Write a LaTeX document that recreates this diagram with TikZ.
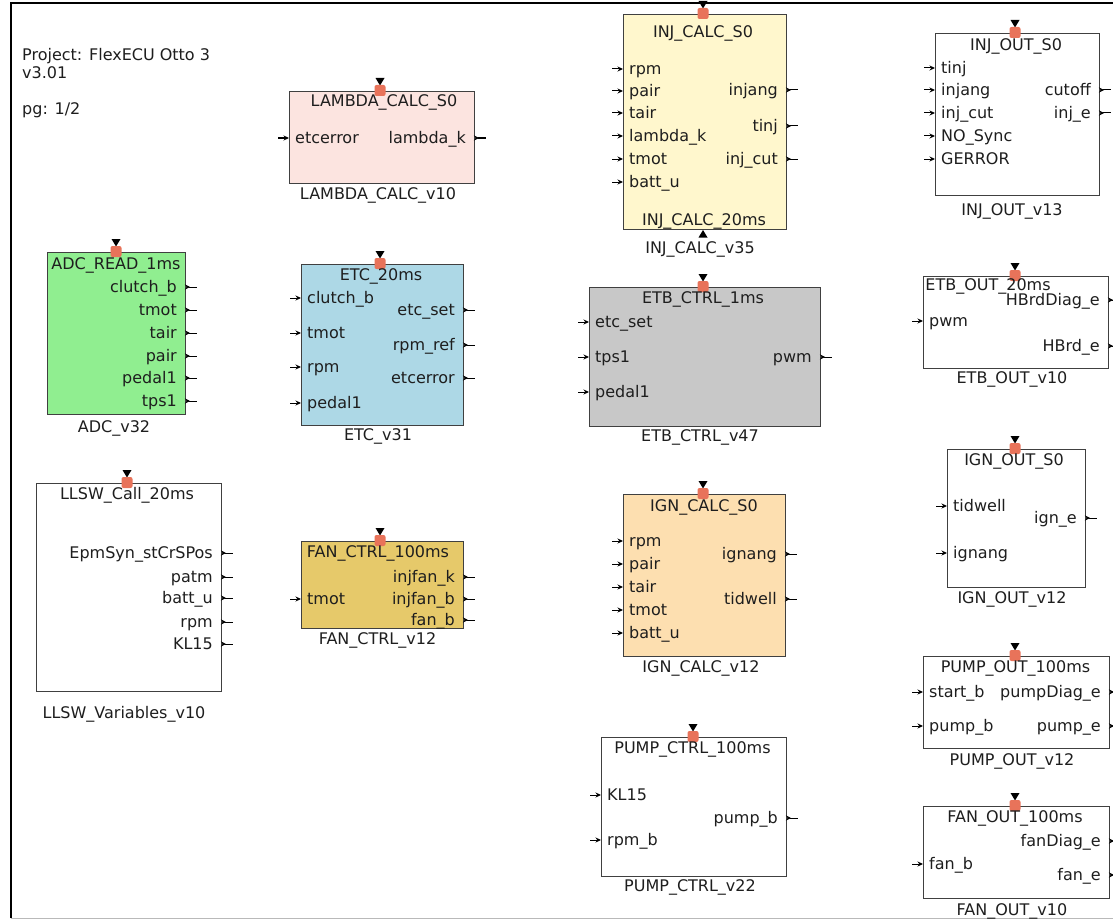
\documentclass[tikz,border=0pt]{standalone}
\usepackage{fontspec}
\setmainfont{DejaVu Sans}
\usetikzlibrary{arrows.meta,calc}
\definecolor{pinkfill}{HTML}{FCE4E0}
\definecolor{yellowfill}{HTML}{FFF7CD}
\definecolor{greenfill}{HTML}{90EE90}
\definecolor{bluefill}{HTML}{ADD8E6}
\definecolor{grayfill}{HTML}{C8C8C8}
\definecolor{khakifill}{HTML}{E6C96A}
\definecolor{peachfill}{HTML}{FDDFB0}
\definecolor{trigred}{HTML}{E8735A}
\definecolor{txtcol}{HTML}{1E1E1E}
\tikzset{
  fblk/.style={rectangle, draw=black!75, line width=0.9pt, anchor=north west, inner sep=0pt, outer sep=0pt},
  txt/.style={font=\fontsize{16}{19}\selectfont, inner sep=0pt, text=txtcol},
  inarr/.style={-{Stealth[length=5.5pt,width=5pt]}, line width=1pt},
  outarr/.style={{Stealth[length=5pt,width=5pt,reversed]}-, line width=1pt},
}
\newcommand\mkblk[6]{\node[fblk, fill=#6, minimum width={(#4-#2)*1pt}, minimum height={(#5-#3)*1pt}] (#1) at (#2,#3) {};}
\newcommand\pin[3]{%
  \coordinate (#1i#2) at ($(#1.west |- 0,#2)+(-11,0)$);
  \draw[inarr] (#1i#2) -- (#1.west |- 0,#2);
  \node[txt,anchor=base west] at ($(#1.west |- 0,#2)+(6,5.5)$) {#3};}
\newcommand\pout[3]{%
  \coordinate (#1o#2) at ($(#1.east |- 0,#2)+(12,0)$);
  \draw[outarr] (#1.east |- 0,#2) -- (#1o#2);
  \node[txt,anchor=base east] at ($(#1.east |- 0,#2)+(-8,5.5)$) {#3};}
\newcommand\trig[2]{%
  \fill[black] ($(#1.north -| #2,0)+(-4.5,-13)$) -- ++(9,0) -- ++(-4.5,7.5) -- cycle;
  \fill[trigred, rounded corners=2pt] ($(#1.north -| #2,0)+(-5.5,-6)$) rectangle ++(11,11);}
\newcommand\ttl[3]{\node[txt,anchor=base] at (#1,#2) {#3};}
\begin{document}
\begin{tikzpicture}[x=1pt,y=-1pt]
\useasboundingbox (0,0) rectangle (1113,923);
\fill[white] (0,0) rectangle (1113,923);
% frame
\draw[gray!55, line width=1pt] (11,918) -- (1113,918);
\draw[black, line width=1.6pt] (11,918) -- (11,3) -- (1114,3);
% header text
\node[txt,anchor=base west] at (22,61) {Project: FlexECU Otto 3};
\node[txt,anchor=base west] at (22,79) {v3.01};
\node[txt,anchor=base west] at (22,114) {pg: 1/2};

% LAMBDA
\mkblk{lam}{289}{91}{474}{183}{pinkfill}
\trig{lam}{380}
\ttl{384}{107}{LAMBDA\_CALC\_S0}
\pin{lam}{138}{etcerror}
\pout{lam}{138}{lambda\_k}
\ttl{378}{199.5}{LAMBDA\_CALC\_v10}

% INJ_CALC
\mkblk{injc}{623}{14}{786}{229}{yellowfill}
\trig{injc}{703}
\ttl{703}{38}{INJ\_CALC\_S0}
\pin{injc}{69}{rpm}
\pin{injc}{91}{pair}
\pin{injc}{113}{tair}
\pin{injc}{136}{lambda\_k}
\pin{injc}{159}{tmot}
\pin{injc}{182}{batt\_u}
\pout{injc}{90}{injang}
\pout{injc}{126}{tinj}
\pout{injc}{159}{inj\_cut}
\ttl{704}{225}{INJ\_CALC\_20ms}
\fill[black] ($(injc.south -| 703,0)+(-4.5,8.5)$) -- ++(9,0) -- ++(-4.5,-7.5) -- cycle;
\ttl{700}{253}{INJ\_CALC\_v35}

% INJ_OUT
\mkblk{injo}{935}{33}{1099}{195}{white}
\trig{injo}{1015}
\ttl{1016}{50.5}{INJ\_OUT\_S0}
\pin{injo}{68}{tinj}
\pin{injo}{90}{injang}
\pin{injo}{113}{inj\_cut}
\pin{injo}{136}{NO\_Sync}
\pin{injo}{159}{GERROR}
\pout{injo}{90}{cutoff}
\pout{injo}{113}{inj\_e}
\ttl{1012}{215}{INJ\_OUT\_v13}

% ADC
\mkblk{adc}{47}{252}{185}{414}{greenfill}
\trig{adc}{116}
\ttl{116}{269}{ADC\_READ\_1ms}
\pout{adc}{287}{clutch\_b}
\pout{adc}{310}{tmot}
\pout{adc}{333}{tair}
\pout{adc}{356}{pair}
\pout{adc}{378}{pedal1}
\pout{adc}{401}{tps1}
\ttl{114}{432}{ADC\_v32}

% ETC
\mkblk{etc}{301}{264}{463}{425}{bluefill}
\trig{etc}{380}
\ttl{381}{280}{ETC\_20ms}
\pin{etc}{298}{clutch\_b}
\pin{etc}{333}{tmot}
\pin{etc}{367}{rpm}
\pin{etc}{403}{pedal1}
\pout{etc}{310}{etc\_set}
\pout{etc}{345}{rpm\_ref}
\pout{etc}{378}{etcerror}
\ttl{378}{440}{ETC\_v31}

% ETB_CTRL
\mkblk{etbc}{589}{287}{820}{426}{grayfill}
\trig{etbc}{703}
\ttl{703}{303}{ETB\_CTRL\_1ms}
\pin{etbc}{322}{etc\_set}
\pin{etbc}{357}{tps1}
\pin{etbc}{392}{pedal1}
\pout{etbc}{357}{pwm}
\ttl{700}{441}{ETB\_CTRL\_v47}

% ETB_OUT
\mkblk{etbo}{923}{276}{1108}{368}{white}
\trig{etbo}{1015}
\ttl{988}{290}{ETB\_OUT\_20ms}
\pin{etbo}{321}{pwm}
\pout{etbo}{300}{HBrdDiag\_e}
\pout{etbo}{346}{HBrd\_e}
\ttl{1012}{383}{ETB\_OUT\_v10}

% IGN_OUT
\mkblk{igno}{947}{449}{1085}{587}{white}
\trig{igno}{1015}
\ttl{1014}{465}{IGN\_OUT\_S0}
\pin{igno}{506}{tidwell}
\pin{igno}{553}{ignang}
\pout{igno}{518}{ign\_e}
\ttl{1012}{603}{IGN\_OUT\_v12}

% LLSW
\mkblk{llsw}{36}{483}{221}{691}{white}
\trig{llsw}{127}
\ttl{127}{499.5}{LLSW\_Call\_20ms}
\pout{llsw}{553}{EpmSyn\_stCrSPos}
\pout{llsw}{577}{patm}
\pout{llsw}{598}{batt\_u}
\pout{llsw}{622}{rpm}
\pout{llsw}{644}{KL15}
\ttl{124}{718}{LLSW\_Variables\_v10}

% FAN_CTRL
\mkblk{fanc}{301}{541}{463}{628}{khakifill}
\trig{fanc}{380}
\ttl{378}{557.5}{FAN\_CTRL\_100ms}
\pin{fanc}{599}{tmot}
\pout{fanc}{577}{injfan\_k}
\pout{fanc}{599}{injfan\_b}
\pout{fanc}{620}{fan\_b}
\ttl{377.5}{644}{FAN\_CTRL\_v12}

% IGN_CALC
\mkblk{ignc}{623}{494}{785}{656}{peachfill}
\trig{ignc}{703}
\ttl{704}{511}{IGN\_CALC\_S0}
\pin{ignc}{541}{rpm}
\pin{ignc}{564}{pair}
\pin{ignc}{587}{tair}
\pin{ignc}{610}{tmot}
\pin{ignc}{633}{batt\_u}
\pout{ignc}{554}{ignang}
\pout{ignc}{599}{tidwell}
\ttl{701}{672.5}{IGN\_CALC\_v12}

% PUMP_CTRL
\mkblk{pumpc}{601}{737}{786}{876}{white}
\trig{pumpc}{693}
\ttl{692.5}{753}{PUMP\_CTRL\_100ms}
\pin{pumpc}{795}{KL15}
\pin{pumpc}{840}{rpm\_b}
\pout{pumpc}{818}{pump\_b}
\ttl{690}{891.5}{PUMP\_CTRL\_v22}

% PUMP_OUT
\mkblk{pumpo}{923}{656}{1109}{748}{white}
\trig{pumpo}{1015}
\ttl{1015.5}{672.5}{PUMP\_OUT\_100ms}
\pin{pumpo}{692}{start\_b}
\pin{pumpo}{726}{pump\_b}
\pout{pumpo}{692}{pumpDiag\_e}
\pout{pumpo}{726}{pump\_e}
\ttl{1012}{765}{PUMP\_OUT\_v12}

% FAN_OUT
\mkblk{fano}{923}{806}{1109}{898}{white}
\trig{fano}{1015}
\ttl{1015}{822.5}{FAN\_OUT\_100ms}
\pin{fano}{864}{fan\_b}
\pout{fano}{841}{fanDiag\_e}
\pout{fano}{875}{fan\_e}
\ttl{1012}{915}{FAN\_OUT\_v10}
\end{tikzpicture}
\end{document}
